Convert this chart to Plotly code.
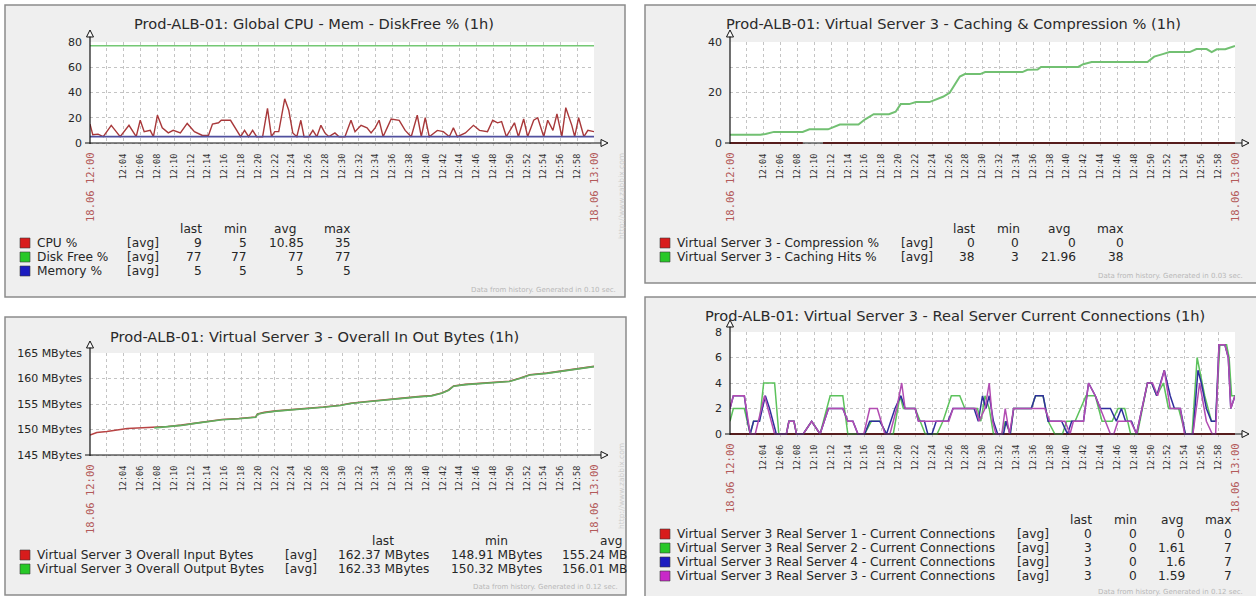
import plotly.graph_objects as go

W, H = 1256, 596

# ---------------------------------------------------------------------------
# Time axis (minutes after 18.06 12:00)
# ---------------------------------------------------------------------------
minute_ticks = list(range(0, 61, 2))
time_labels = ["", "", "12:04", "12:06", "12:08", "12:10", "12:12", "12:14",
               "12:16", "12:18", "12:20", "12:22", "12:24", "12:26", "12:28",
               "12:30", "12:32", "12:34", "12:36", "12:38", "12:40", "12:42",
               "12:44", "12:46", "12:48", "12:50", "12:52", "12:54", "12:56",
               "12:58", ""]
period_labels = ["18.06 12:00", "18.06 13:00"]
period_minutes = [0, 60]

# ---------------------------------------------------------------------------
# Graph 1: Global CPU - Mem - DiskFree %
# ---------------------------------------------------------------------------
cpu_min = [0, 0.33, 0.96, 1.58, 2.53, 3.59, 4.64, 5.5, 5.98, 6.45,
           7.17, 7.55, 8.03, 8.6, 9.32, 9.9, 10.76, 11.57, 12.43, 13.38,
           14.1, 14.58, 15.3, 15.63, 16.73, 17.45, 17.93, 18.4, 18.88, 19.36,
           19.84, 20.55, 21.13, 21.6, 21.99, 22.47, 22.7, 23.18, 23.66, 24.14,
           24.62, 25.1, 25.48, 26.05, 26.53, 27.0, 27.49, 27.96, 28.44, 29.16,
           29.64, 30.35, 31.07, 31.55, 32.27, 32.98, 33.46, 33.94, 34.42, 34.89,
           35.37, 35.85, 36.81, 37.52, 38.24, 38.96, 39.44, 39.91, 40.39, 41.35,
           42.06, 42.78, 43.26, 43.74, 44.69, 45.65, 46.37, 47.32, 47.94, 48.52,
           49.0, 49.57, 50.53, 51.0, 51.63, 52.1, 52.82, 53.3, 54.02, 54.49,
           55.11, 55.59, 56.17, 56.64, 57.36, 57.7, 58.17, 58.8, 59.27, 60]
cpu_pct = [15, 6.5, 7, 5, 14, 5, 14, 5, 18, 9,
           10, 5, 22, 12, 8, 10, 8, 15.5, 9, 6,
           6, 15, 16, 18, 18, 10, 5, 10, 5, 10,
           5, 5, 27.5, 5, 9, 9, 18, 35, 26, 8,
           5, 18, 5, 5, 10, 5, 14, 8, 5, 8,
           5, 5, 18, 9, 14, 12, 8, 12, 18, 5,
           12, 19, 18, 10, 5, 22, 5, 20, 5, 10,
           9, 5, 12, 5, 8, 14, 10, 9, 18, 16,
           17, 5, 16, 5, 19, 5, 18, 20, 5, 18,
           10, 23, 5, 28, 14, 5, 20, 5, 10, 9]
flat_min = [0, 60]
disk_free_pct = [77, 77]
memory_pct = [5, 5]

cpu_ticks = [0, 20, 40, 60, 80]
cpu_tick_labels = ["0", "20", "40", "60", "80"]

g1_names = ["CPU %", "Disk Free %", "Memory %"]
g1_last = ["9", "77", "5"]
g1_minv = ["5", "77", "5"]
g1_avg = ["10.85", "77", "5"]
g1_max = ["35", "77", "5"]

# ---------------------------------------------------------------------------
# Graph 2: Virtual Server 3 - Caching & Compression %
# ---------------------------------------------------------------------------
cache_min = [0, 3.61, 4.22, 4.82, 5.22, 8.63, 9.44, 11.65, 12.45, 13.05,
             15.26, 16.06, 17.07, 18.88, 19.68, 20.28, 21.29, 22.09, 23.69, 24.5,
             25.3, 26.1, 26.71, 27.31, 27.91, 29.72, 30.32, 34.74, 35.34, 36.55,
             36.95, 41.37, 41.97, 42.97, 49.6, 50.4, 51.41, 52.21, 54.62, 55.42,
             56.63, 57.23, 57.83, 58.84, 60]
cache_hits_pct = [3.3, 3.3, 3.6, 4.1, 4.4, 4.4, 5.4, 5.4, 6.5, 7.3,
                  7.3, 9.4, 11.4, 11.4, 12.4, 15.4, 15.4, 16.2, 16.2, 17.4,
                  18.3, 19.9, 23, 26.3, 27.3, 27.3, 28.1, 28.1, 29, 29.1,
                  30.1, 30.1, 31.2, 32.1, 32.1, 34.2, 35.2, 36, 36, 37.2,
                  37.2, 36, 37.1, 37.1, 38.4]
compression_min = [0, 8.65, 8.66, 11.05, 60]
compression_pct = [0, 0, None, 0, 0]

cache_ticks = [0, 10, 20, 30, 40]
cache_tick_labels = ["0", "", "20", "", "40"]

g2_names = ["Virtual Server 3 - Compression %", "Virtual Server 3 - Caching Hits %"]
g2_last = ["0", "38"]
g2_minv = ["0", "3"]
g2_avg = ["0", "21.96"]
g2_max = ["0", "38"]

# ---------------------------------------------------------------------------
# Graph 3: Virtual Server 3 - Overall In Out Bytes (MBytes)
# ---------------------------------------------------------------------------
in_min = [0, 0.81, 2.01, 3.22, 4.43, 5.64, 7.65, 9.26, 10.87, 12.48, 14.1,
          15.71, 17.72, 19.73, 19.94, 20.74, 22.15, 23.76, 26.18, 27.79, 29.8,
          31.01, 33.02, 35.04, 37.05, 39.07, 40.68, 41.88, 42.69, 43.29, 44.7,
          47.12, 49.94, 51.15, 52.36, 54.37, 55.98, 57.99, 60]
in_mb = [148.91, 149.4, 149.6, 149.9, 150.2, 150.3, 150.45, 150.6, 150.85,
         151.25, 151.55, 151.95, 152.15, 152.45, 153.05, 153.35, 153.65,
         153.85, 154.15, 154.4, 154.75, 155.15, 155.5, 155.85, 156.15, 156.45,
         156.65, 157.15, 157.75, 158.55, 158.85, 159.1, 159.45, 160.05, 160.75,
         161.05, 161.45, 161.85, 162.37]
out_min = [7.65, 9.26, 10.87, 12.48, 14.1, 15.71, 17.72, 19.73, 19.94, 20.74,
           22.15, 23.76, 26.18, 27.79, 29.8, 31.01, 33.02, 35.04, 37.05, 39.07,
           40.68, 41.88, 42.69, 43.29, 44.7, 47.12, 49.94, 51.15, 52.36, 54.37,
           55.98, 57.99, 60]
out_mb = [150.32, 150.55, 150.8, 151.2, 151.5, 151.9, 152.1, 152.4, 153.0, 153.3,
          153.6, 153.8, 154.1, 154.35, 154.7, 155.1, 155.45, 155.8, 156.1, 156.4,
          156.6, 157.1, 157.7, 158.5, 158.8, 159.05, 159.4, 160.0, 160.7, 161.0,
          161.4, 161.8, 162.33]

bytes_ticks = [145, 150, 155, 160, 165]
bytes_tick_labels = ["145 MBytes", "150 MBytes", "155 MBytes", "160 MBytes", "165 MBytes"]

g3_names = ["Virtual Server 3 Overall Input Bytes", "Virtual Server 3 Overall Output Bytes"]
g3_last = ["162.37 MBytes", "162.33 MBytes"]
g3_minv = ["148.91 MBytes", "150.32 MBytes"]
g3_avg = ["155.24 MBytes", "156.01 MBytes"]

# ---------------------------------------------------------------------------
# Graph 4: Virtual Server 3 - Real Server Current Connections
# ---------------------------------------------------------------------------
rs1_min = [0, 60]
rs1_conn = [0, 0]
rs2_min = [0, 0.4, 1.7, 2.4, 2.8, 3.5, 4.0, 5.3, 5.8, 6.7, 7.0, 7.6, 7.9, 8.7,
           9.7, 10.7, 11.9, 13.4, 14.0, 16.0, 16.8, 17.8, 18.6, 19.4, 20.2,
           20.6, 22.0, 22.6, 23.2, 24.6, 25.3, 26.3, 27.3, 27.9, 29.4, 29.8,
           30.3, 30.8, 31.3, 32.3, 32.7, 33.3, 33.7, 35.8, 36.3, 37.2, 37.8,
           38.6, 39.5, 40.0, 41.0, 42.3, 43.4, 44.2, 45.4, 46.1, 46.9, 47.6,
           48.4, 49.6, 50.1, 50.7, 51.5, 52.1, 53.3, 54.1, 54.9, 55.5, 56.4,
           57.2, 57.7, 58.2, 59.0, 59.3, 59.6, 60]
rs2_conn = [1, 2, 2, 0, 1, 1, 4, 4, 0, 0, 1, 1, 0, 0, 1, 0, 3, 3, 0, 0, 1, 1,
            0, 0, 3, 2, 2, 1, 0, 0, 1, 3, 3, 2, 2, 1, 3, 2, 0, 0, 1, 0, 2, 2,
            3, 3, 1, 0, 0, 1, 1, 3, 3, 1, 1, 2, 2, 0, 0, 4, 4, 3, 4, 2, 2, 0,
            0, 6, 3, 1, 1, 7, 7, 6, 3, 3]
rs4_min = [0, 0.4, 1.7, 2.1, 2.4, 2.8, 3.5, 4.2, 4.7, 5.5, 6.7, 7.0, 7.6, 7.9,
           8.7, 9.7, 10.7, 11.7, 13.4, 14.0, 14.6, 15.2, 16.0, 16.6, 17.8,
           18.6, 19.6, 20.3, 20.8, 22.0, 22.4, 23.1, 23.5, 24.0, 24.5, 25.9,
           26.5, 29.0, 29.5, 30.0, 30.4, 30.8, 31.3, 31.8, 32.5, 32.8, 33.3,
           33.7, 35.8, 36.3, 37.2, 37.8, 39.4, 40.1, 40.6, 42.0, 42.6, 43.4,
           44.0, 45.2, 45.9, 46.5, 47.0, 47.7, 48.3, 49.6, 50.1, 50.7, 51.6,
           52.3, 52.8, 53.5, 54.1, 55.0, 55.6, 56.0, 56.6, 57.2, 57.7, 58.1,
           58.8, 59.2, 59.5, 60]
rs4_conn = [2, 3, 3, 1, 0, 1, 1, 3, 2, 0, 0, 1, 1, 0, 0, 1, 0, 2, 2, 1, 1, 0,
            0, 1, 1, 0, 2, 3, 2, 2, 1, 1, 0, 0, 1, 1, 2, 2, 1, 3, 2, 3, 1, 0,
            0, 1, 0, 2, 2, 3, 3, 1, 1, 0, 1, 1, 4, 3, 2, 2, 1, 2, 1, 1, 0, 4,
            4, 3, 5, 3, 2, 2, 0, 0, 5, 4, 2, 1, 1, 7, 7, 6, 2, 3]
rs3_min = [0, 0.4, 1.7, 2.4, 3.0, 4.1, 5.3, 6.7, 7.0, 7.6, 7.9, 8.7, 9.7, 10.7,
           11.7, 13.4, 14.0, 14.6, 15.2, 15.9, 16.6, 17.5, 18.4, 19.0, 19.8,
           20.4, 20.8, 22.0, 22.4, 26.0, 26.5, 29.2, 29.6, 30.3, 30.8, 31.2,
           31.6, 32.3, 32.7, 33.2, 33.7, 37.4, 38.0, 39.8, 40.4, 40.8, 42.0,
           42.6, 43.4, 44.6, 45.2, 45.6, 46.1, 47.6, 48.3, 49.6, 50.2, 50.8,
           51.6, 52.3, 53.5, 54.0, 55.0, 55.8, 56.6, 57.3, 57.7, 58.1, 58.8,
           59.2, 59.5, 60]
rs3_conn = [2, 3, 3, 0, 0, 3, 0, 0, 1, 1, 0, 0, 1, 0, 2, 2, 1, 1, 0, 0, 2, 2,
            0, 0, 2, 4, 2, 2, 1, 1, 2, 2, 1, 2, 4, 1, 0, 0, 2, 0, 2, 2, 1, 1,
            0, 1, 1, 4, 3, 1, 0, 0, 1, 1, 0, 4, 4, 3, 5, 2, 2, 0, 0, 4, 1, 0,
            0, 7, 7, 6, 2, 3]

conn_ticks = [0, 2, 4, 6, 8]
conn_tick_labels = ["0", "2", "4", "6", "8"]

g4_names = ["Virtual Server 3 Real Server 1 - Current Connections",
            "Virtual Server 3 Real Server 2 - Current Connections",
            "Virtual Server 3 Real Server 4 - Current Connections",
            "Virtual Server 3 Real Server 3 - Current Connections"]
g4_last = ["0", "3", "3", "3"]
g4_minv = ["0", "0", "0", "0"]
g4_avg = ["0", "1.61", "1.6", "1.59"]
g4_max = ["0", "7", "7", "7"]

titles = ["Prod-ALB-01: Global CPU - Mem - DiskFree % (1h)",
          "Prod-ALB-01: Virtual Server 3 - Caching & Compression % (1h)",
          "Prod-ALB-01: Virtual Server 3 - Overall In Out Bytes (1h)",
          "Prod-ALB-01: Virtual Server 3 - Real Server Current Connections (1h)"]
footers = ["Data from history. Generated in 0.10 sec.",
           "Data from history. Generated in 0.03 sec.",
           "Data from history. Generated in 0.12 sec.",
           "Data from history. Generated in 0.12 sec."]

# ---------------------------------------------------------------------------
# Styling / layout helpers
# ---------------------------------------------------------------------------
SANS = "DejaVu Sans"
MONO = "DejaVu Sans Mono"
TEXT = "#262626"
GRID = "#c4c4c4"
PERIOD_RED = "#b35a5a"
PANEL_BG = "#efefef"
PANEL_EDGE = "#8c8c8c"
AXIS = "#111111"
LEG_SIZE = 12.2

SQ_RED, SQ_GREEN, SQ_BLUE, SQ_MAGENTA = "#d81c1c", "#28c828", "#1c1cc0", "#c828c8"


def fx(p):
    return p / W


def fy(p):
    return 1 - p / H


def names(n):
    return ("x", "y") if n == 1 else (f"x{n}", f"y{n}")


# plot-area geometry in pixels and value range
geom = {
    1: dict(l=90, r=594, t=42, b=143, lo=0, hi=80, tv=cpu_ticks, tt=cpu_tick_labels),
    2: dict(l=730, r=1235, t=42, b=143, lo=0, hi=40, tv=cache_ticks, tt=cache_tick_labels),
    3: dict(l=90, r=594, t=353, b=455, lo=145, hi=165, tv=bytes_ticks, tt=bytes_tick_labels),
    4: dict(l=730, r=1235, t=332, b=434, lo=0, hi=8, tv=conn_ticks, tt=conn_tick_labels),
}

fig = go.Figure()


def line(n, t, v, color, width):
    xn, yn = names(n)
    fig.add_trace(go.Scatter(x=t, y=v, mode="lines", xaxis=xn, yaxis=yn,
                             line=dict(color=color, width=width),
                             connectgaps=False, hoverinfo="skip",
                             showlegend=False))


line(1, cpu_min, cpu_pct, "#a8383a", 1.4)
line(1, flat_min, disk_free_pct, "#74c874", 1.6)
line(1, flat_min, memory_pct, "#50509e", 1.8)

line(2, compression_min, compression_pct, "#9c2a2a", 2.2)
line(2, cache_min, cache_hits_pct, "#72c072", 2.0)

line(3, in_min, in_mb, "#b84444", 1.6)
line(3, out_min, out_mb, "#5fae5f", 1.6)

line(4, rs1_min, rs1_conn, "#9c2a2a", 2.2)
line(4, rs2_min, rs2_conn, "#5cc25c", 1.5)
line(4, rs4_min, rs4_conn, "#2e2e9c", 1.5)
line(4, rs3_min, rs3_conn, "#b24cb2", 1.5)

shapes = []
annotations = []

# panel frames
for (x0, y0, x1, y1) in [(5, 5, 625, 297), (645, 5, 1262, 283),
                         (5, 317, 626, 595), (645, 297, 1262, 602)]:
    shapes.append(dict(type="rect", xref="paper", yref="paper",
                       x0=fx(x0), x1=fx(x1), y0=fy(y1), y1=fy(y0),
                       fillcolor=PANEL_BG, line=dict(color=PANEL_EDGE, width=1.5),
                       layer="below"))


def pline(x0, y0, x1, y1):
    shapes.append(dict(type="line", xref="paper", yref="paper",
                       x0=fx(x0), x1=fx(x1), y0=fy(y0), y1=fy(y1),
                       line=dict(color=AXIS, width=1.2)))


def ptri(points):
    path = "M " + " L ".join(f"{fx(a):.5f},{fy(b):.5f}" for a, b in points) + " Z"
    shapes.append(dict(type="path", xref="paper", yref="paper", path=path,
                       line=dict(color=AXIS, width=1),
                       fillcolor="rgba(255,255,255,0.6)"))


PAD = 3
layout_axes = {}
for n, g in geom.items():
    xn, yn = names(n)
    ppu = (g["b"] - g["t"]) / (g["hi"] - g["lo"])
    xkey = "xaxis" if n == 1 else f"xaxis{n}"
    ykey = "yaxis" if n == 1 else f"yaxis{n}"
    layout_axes[xkey] = dict(
        domain=[fx(g["l"]), fx(g["r"])], range=[0, 60], anchor=yn,
        tickmode="array", tickvals=minute_ticks, ticktext=time_labels,
        tickangle=-90, tickfont=dict(family=MONO, size=8.5, color="#333333"),
        ticklabelstandoff=5,
        showgrid=True, gridcolor=GRID, griddash="dot", gridwidth=1,
        zeroline=False, showline=False, ticks="", fixedrange=True,
        automargin=False)
    layout_axes[ykey] = dict(
        domain=[fy(g["b"] + PAD), fy(g["t"])],
        range=[g["lo"] - PAD / ppu, g["hi"]], anchor=xn,
        tickmode="array", tickvals=g["tv"], ticktext=g["tt"],
        tickfont=dict(family=SANS, size=11, color=TEXT),
        ticklabelstandoff=7,
        showgrid=True, gridcolor=GRID, griddash="dot", gridwidth=1,
        zeroline=False, showline=False, ticks="", fixedrange=True,
        automargin=False)

    # white drawing area
    shapes.append(dict(type="rect", xref=xn, yref=yn, x0=0, x1=60,
                       y0=g["lo"], y1=g["hi"], fillcolor="white",
                       line=dict(width=0), layer="below"))

    # axes with open arrow heads
    l, r, t, b = g["l"], g["r"], g["t"], g["b"]
    pline(l, b + 1, l, t - 6)
    pline(l - 5, b, r + 7, b)
    ptri([(l - 3.5, t - 5), (l, t - 12), (l + 3.5, t - 5)])
    ptri([(r + 7, b - 3.5), (r + 14, b), (r + 7, b + 3.5)])

    # period start / end labels
    for m, lab in zip(period_minutes, period_labels):
        annotations.append(dict(x=m, y=g["lo"], xref=xn, yref=yn, text=lab,
                                showarrow=False, textangle=-90,
                                xanchor="center", yanchor="top", yshift=-7,
                                font=dict(family=MONO, size=10.5, color=PERIOD_RED)))

# titles
for text, (cx, cy) in zip(titles, [(314, 23), (953, 24), (314, 336), (955, 315)]):
    annotations.append(dict(x=fx(cx), y=fy(cy), xref="paper", yref="paper",
                            text=text, showarrow=False, xanchor="center",
                            yanchor="middle",
                            font=dict(family=SANS, size=14.6, color="#2a2a2a")))


def txt(x, y, s, anchor="left", size=LEG_SIZE, color=TEXT, family=SANS, angle=0):
    annotations.append(dict(x=fx(x), y=fy(y), xref="paper", yref="paper",
                            text=s, showarrow=False, xanchor=anchor,
                            yanchor="middle", textangle=angle,
                            font=dict(family=family, size=size, color=color)))


def square(x, y, color):
    shapes.append(dict(type="rect", xref="paper", yref="paper",
                       x0=fx(x), x1=fx(x + 10), y0=fy(y + 5), y1=fy(y - 5),
                       fillcolor=color, line=dict(color="#3a3a3a", width=0.6)))


def legend(rows_y, sq_x, name_x, avg_x, row_names, colors, columns, col_right):
    for i, y in enumerate(rows_y):
        square(sq_x, y, colors[i])
        txt(name_x, y, row_names[i])
        txt(avg_x, y, "[avg]", anchor="center")
        for col, xr in zip(columns, col_right):
            txt(xr, y, col[i], anchor="right")


# graph 1 legend
for h, xr in zip(["last", "min", "avg", "max"], [204, 249, 298, 353]):
    txt(xr, 229, h, anchor="right")
legend([243, 257, 271], 20, 35, 143, g1_names, [SQ_RED, SQ_GREEN, SQ_BLUE],
       [g1_last, g1_minv, g1_avg, g1_max], [204, 249, 306, 353])

# graph 2 legend
for h, xr in zip(["last", "min", "avg", "max"], [977, 1022, 1072, 1126]):
    txt(xr, 229, h, anchor="right")
legend([243, 257], 660, 675, 917, g2_names, [SQ_RED, SQ_GREEN],
       [g2_last, g2_minv, g2_avg, g2_max], [977, 1021, 1078, 1126])

# graph 3 legend (avg column runs into the frame edge)
for h, xr in zip(["last", "min", "avg"], [396, 510, 624]):
    txt(xr, 541, h, anchor="right")
legend([555, 569], 20, 35, 301, g3_names, [SQ_RED, SQ_GREEN],
       [g3_last, g3_minv], [431, 544])
for i, y in enumerate([555, 569]):
    txt(560, y, g3_avg[i][:9])

# graph 4 legend
for h, xr in zip(["last", "min", "avg", "max"], [1094, 1139, 1185, 1234]):
    txt(xr, 520, h, anchor="right")
legend([534, 548, 562, 576], 660, 675, 1033, g4_names,
       [SQ_RED, SQ_GREEN, SQ_BLUE, SQ_MAGENTA],
       [g4_last, g4_minv, g4_avg, g4_max], [1094, 1139, 1187, 1234])

# footers and side marks
txt(618, 290, footers[0], anchor="right", size=7, color="#b8b8b8")
txt(1096, 276, footers[1], anchor="left", size=7, color="#b8b8b8")
txt(620, 587, footers[2], anchor="right", size=7, color="#b8b8b8")
txt(1096, 592, footers[3], anchor="left", size=7, color="#b8b8b8")
txt(621, 196, "http://www.zabbix.com", anchor="center", size=7.5,
    color="#cdcdcd", angle=-90)
txt(621, 486, "http://www.zabbix.com", anchor="center", size=7.5,
    color="#cdcdcd", angle=-90)

fig.update_layout(
    template="none", width=W, height=H, autosize=False,
    margin=dict(l=0, r=0, t=0, b=0, pad=0),
    paper_bgcolor="white", plot_bgcolor="white",
    showlegend=False, shapes=shapes, annotations=annotations,
    **layout_axes)

fig.write_html("out.html", config=dict(displayModeBar=False, staticPlot=True))
